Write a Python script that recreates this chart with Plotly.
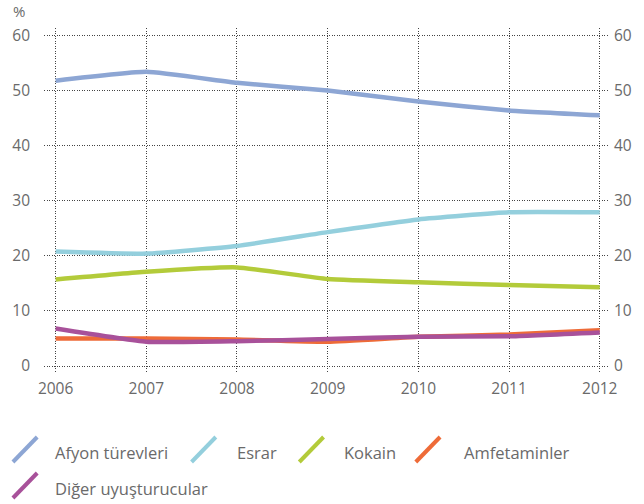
import plotly.graph_objects as go

years = [2006, 2007, 2008, 2009, 2010, 2011, 2012]
afyon = [51.8, 53.4, 51.4, 50.0, 48.0, 46.4, 45.5]
esrar = [20.8, 20.4, 21.8, 24.3, 26.6, 27.9, 27.9]
kokain = [15.7, 17.1, 17.9, 15.8, 15.2, 14.7, 14.3]
amfet = [5.0, 5.0, 4.8, 4.4, 5.3, 5.7, 6.5]
diger = [6.8, 4.4, 4.5, 4.9, 5.3, 5.4, 6.1]

series_names = ["Afyon türevleri", "Esrar", "Kokain", "Amfetaminler", "Diğer uyuşturucular"]
series_vals = [afyon, esrar, kokain, amfet, diger]
colors = ["#8DA6D4", "#94CFDD", "#B3CB3A", "#EE6B38", "#A8519A"]
y_ticks = [0, 10, 20, 30, 40, 50, 60]

FONT = "Open Sans"
TXT = "#6a6a6a"

fig = go.Figure()
for name, vals, c in zip(series_names, series_vals, colors):
    fig.add_trace(go.Scatter(x=years, y=vals, name=name, mode="lines",
                             line=dict(color=c, width=4.5, shape="spline", smoothing=0.4),
                             showlegend=False, hoverinfo="x+y+name"))
# invisible trace to activate right axis
fig.add_trace(go.Scatter(x=years, y=afyon, yaxis="y2", mode="lines",
                         line=dict(width=0), opacity=0, showlegend=False, hoverinfo="skip"))

L, R, T, B = 39, 24, 28, 132
W, H = 644, 504
pw, ph = W - L - R, H - T - B

def px(x):
    return (x - L) / pw

def py(y):
    return (H - B - y) / ph

# custom legend: (icon x, icon bottom y, text x, text center y)
legend_pos = [(7, 462, 48, 452), (191, 462, 236, 452), (302, 462, 346, 452),
              (422, 462, 470, 452), (7, 498, 48, 488)]
shapes = []
annotations = []
for (ix, iy, tx, ty), name, c in zip(legend_pos, series_names, colors):
    shapes.append(dict(type="line", xref="paper", yref="paper",
                       x0=px(ix), y0=py(iy), x1=px(ix + 25), y1=py(iy - 25),
                       line=dict(color=c, width=4)))
    annotations.append(dict(xref="paper", yref="paper", x=px(tx), y=py(ty),
                            text=name, showarrow=False, xanchor="left", yanchor="middle",
                            font=dict(family=FONT, size=16.5, color=TXT)))
annotations.append(dict(xref="paper", yref="paper", x=px(5), y=py(11), text="%",
                        showarrow=False, xanchor="left", yanchor="middle",
                        font=dict(family=FONT, size=15, color=TXT)))

grid = dict(showgrid=True, gridcolor="#444", gridwidth=1, griddash="1px,1.5px", zeroline=False,
            showline=False, ticks="")
yr = [-1.09, 61.36]
fig.update_layout(
    width=W, height=H, margin=dict(l=L, r=R, t=T, b=B),
    paper_bgcolor="white", plot_bgcolor="white",
    font=dict(family=FONT, size=15.5, color=TXT),
    xaxis=dict(range=[2005.872, 2012.091], tickvals=years, ticktext=[str(y) for y in years],
               ticklabelstandoff=5, **grid),
    yaxis=dict(range=yr, tickvals=y_ticks, ticklabelstandoff=13, **grid),
    yaxis2=dict(range=yr, tickvals=y_ticks, overlaying="y", side="right",
                showgrid=False, zeroline=False, showline=False, ticks="", ticklabelstandoff=5),
    shapes=shapes, annotations=annotations,
)
fig.write_html("out.html", config={"displayModeBar": False},
               post_script="document.body.style.margin='0';document.body.style.padding='0';")
